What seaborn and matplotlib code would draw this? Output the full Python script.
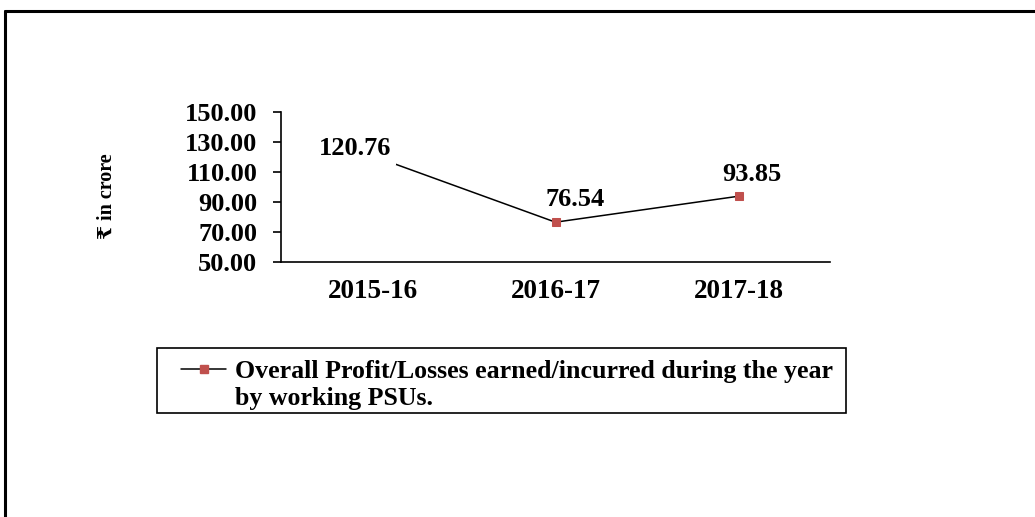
import matplotlib
matplotlib.use("Agg")
import matplotlib.pyplot as plt
import seaborn as sns
import pandas as pd
from matplotlib.lines import Line2D
from matplotlib.patches import Rectangle

years = ["2015-16", "2016-17", "2017-18"]
profit = [120.76, 76.54, 93.85]
yticks = [50, 70, 90, 110, 130, 150]
series_lines = ["Overall Profit/Losses earned/incurred during the year",
                "by working PSUs."]
ylabel = "\u20b9 in crore"

# label offsets in pixels (dx, dy)
label_offsets = [(-17, 7), (20, 23), (13, 22)]

sns.set_style("white")
plt.rcParams["font.family"] = ["Liberation Serif", "DejaVu Serif", "DejaVu Sans"]
plt.rcParams["font.weight"] = "bold"
plt.rcParams["text.color"] = "black"
plt.rcParams["xtick.color"] = "black"
plt.rcParams["ytick.color"] = "black"
plt.rcParams["axes.labelcolor"] = "black"

df = pd.DataFrame({"year": years, "value": profit})

W, H = 1035, 517
fig = plt.figure(figsize=(W / 100, H / 100), dpi=100)
ax = fig.add_axes([281 / W, 1 - 262 / H, (830 - 281) / W, 150 / H])

sns.lineplot(data=df, x="year", y="value", ax=ax, color="black", linewidth=1.1,
             marker="s", markersize=6, markerfacecolor="#C0504D",
             markeredgecolor="#C0504D", zorder=2)

ax.set_xlim(-0.5, 2.5)
ax.set_ylim(50, 150)
ax.set_yticks(yticks)
ax.set_yticklabels([f"{v:.2f}" for v in yticks], fontsize=19, fontweight="bold")
ax.set_xticks(range(len(years)))
ax.set_xticklabels(years, fontsize=19.5, fontweight="bold")
ax.tick_params(axis="y", length=6, width=1.2, pad=11, direction="out", left=True)
ax.tick_params(axis="x", length=0, pad=12)
ax.set_xlabel("")
ax.set_ylabel(ylabel, fontsize=14.5, fontweight="bold")
ax.yaxis.label.set_va("center")
ax.yaxis.set_label_coords(-0.317, 0.44)

for s in ["top", "right"]:
    ax.spines[s].set_visible(False)
for s in ["left", "bottom"]:
    ax.spines[s].set_color("black")
    ax.spines[s].set_linewidth(1.2)

for i, (v, off) in enumerate(zip(profit, label_offsets)):
    t = ax.annotate(f"{v:.2f}", xy=(i, v), xytext=off, textcoords="offset pixels",
                    ha="center", va="center", fontsize=19, fontweight="bold", zorder=5)
    if i == 0:
        # first label sits over its marker in the original
        t.set_bbox(dict(facecolor="white", edgecolor="none", pad=3))

# legend: frameless legend inside a separately drawn box
handle = Line2D([], [], color="black", linewidth=1.1, marker="s", markersize=6,
                markerfacecolor="#C0504D", markeredgecolor="#C0504D")
blank = Line2D([], [], color="none")
leg = fig.legend([handle, blank], series_lines, loc="upper left",
                 bbox_to_anchor=(181 / W, 1 - 360 / H), bbox_transform=fig.transFigure,
                 borderaxespad=0, borderpad=0, frameon=False,
                 prop={"size": 18.6, "weight": "bold"}, handlelength=1.75,
                 handletextpad=0.35, labelspacing=0.16)
fig.add_artist(Rectangle((157 / W, 1 - 413 / H), (846 - 157) / W, 65 / H,
                         transform=fig.transFigure, fill=False,
                         edgecolor="black", linewidth=1.2))

# outer chart border (top and left visible)
fig.add_artist(Line2D([5 / W, 1.0], [1 - 11 / H, 1 - 11 / H], transform=fig.transFigure,
                      color="black", linewidth=2.2))
fig.add_artist(Line2D([5 / W, 5 / W], [0.0, 1 - 11 / H], transform=fig.transFigure,
                      color="black", linewidth=2.2))

fig.savefig("out.png", dpi=100)
